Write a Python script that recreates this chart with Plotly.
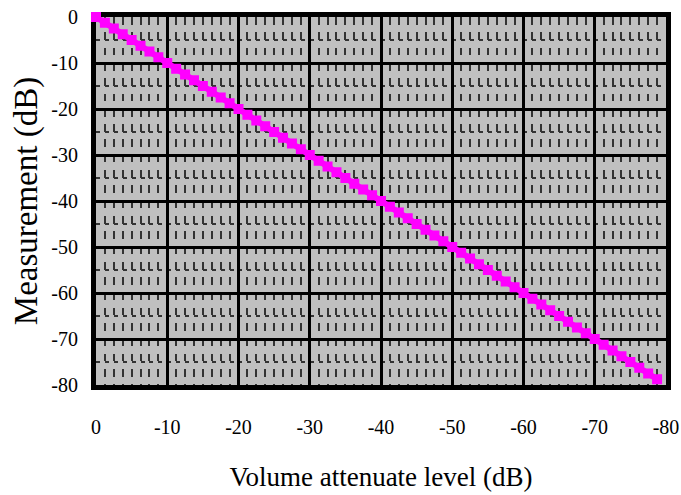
import plotly.graph_objects as go

attenuation = [-1.25 * i for i in range(64)]
measurement = [-1.25 * i for i in range(64)]
tick_vals = [0, -10, -20, -30, -40, -50, -60, -70, -80]
tick_text = ["0", "-10", "-20", "-30", "-40", "-50", "-60", "-70", "-80"]

fig = go.Figure()
fig.add_trace(go.Scatter(
    x=attenuation, y=measurement, mode="lines+markers",
    line=dict(color="#ff00ff", width=6),
    marker=dict(symbol="square", size=10, color="#ff00ff"),
    cliponaxis=False, showlegend=False,
))

font = "Liberation Serif, Times New Roman, serif"
fig.update_layout(
    width=681, height=495,
    margin=dict(l=96, r=15, t=17, b=110),
    paper_bgcolor="white", plot_bgcolor="#c0c0c0",
    font=dict(family=font, size=20, color="black"),
    xaxis=dict(
        range=[0, -80], tickvals=tick_vals, ticktext=tick_text,
        showgrid=True, gridcolor="black", gridwidth=3,
        showline=True, linecolor="black", linewidth=5, mirror=True,
        zeroline=False, ticks="", ticklabelstandoff=20, automargin=False,
        layer="below traces",
        minor=dict(dtick=1.25, tick0=0, showgrid=True, gridcolor="#333333",
                   gridwidth=1.5, griddash="7.7px,7.6px"),
        title=dict(text="Volume attenuate level (dB)", font=dict(size=27), standoff=32),
    ),
    yaxis=dict(
        range=[-80, 0], tickvals=tick_vals, ticktext=tick_text,
        showgrid=True, gridcolor="black", gridwidth=3,
        showline=True, linecolor="black", linewidth=5, mirror=True,
        zeroline=False, ticks="", ticklabelstandoff=9, automargin=False,
        layer="below traces",
        minor=dict(dtick=5, tick0=0, showgrid=True, gridcolor="#333333",
                   gridwidth=1.5, griddash="4px,4.9px"),
        title=dict(text="Measurement (dB)", font=dict(size=33), standoff=5),
    ),
)
fig.write_html("out.html", config={"displayModeBar": False},
               post_script="document.body.style.margin='0';")
